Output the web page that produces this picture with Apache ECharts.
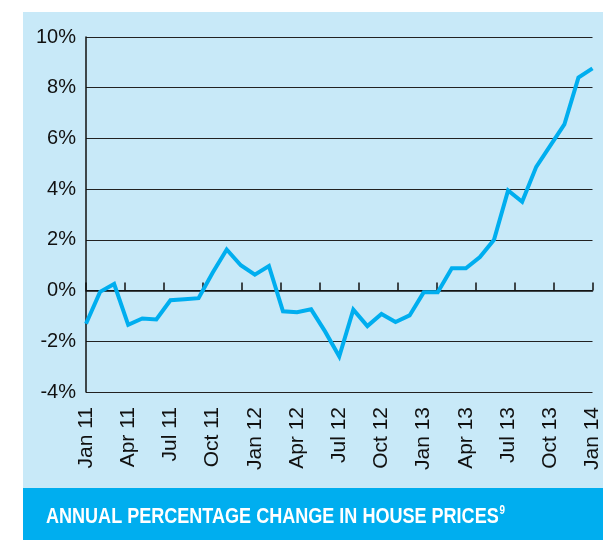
<!DOCTYPE html>
<html>
<head>
<meta charset="utf-8">
<title>Annual percentage change in house prices</title>
<script src="https://cdn.jsdelivr.net/npm/echarts@6/dist/echarts.min.js"></script>
<style>
  html, body { margin: 0; padding: 0; background: #fff; }
  #main { width: 603px; height: 540px; }
</style>
</head>
<body>
<div id="main"></div>
<script>
// 数据：每月一个点，2011年1月到2014年1月
var months = [
  'Jan 11', 'Feb 11', 'Mar 11', 'Apr 11', 'May 11', 'Jun 11', 'Jul 11', 'Aug 11', 'Sep 11', 'Oct 11', 'Nov 11', 'Dec 11',
  'Jan 12', 'Feb 12', 'Mar 12', 'Apr 12', 'May 12', 'Jun 12', 'Jul 12', 'Aug 12', 'Sep 12', 'Oct 12', 'Nov 12', 'Dec 12',
  'Jan 13', 'Feb 13', 'Mar 13', 'Apr 13', 'May 13', 'Jun 13', 'Jul 13', 'Aug 13', 'Sep 13', 'Oct 13', 'Nov 13', 'Dec 13',
  'Jan 14'
];
var priceChange = [
  -1.31, -0.05, 0.26, -1.35, -1.1, -1.14, -0.38, -0.34, -0.3, 0.7, 1.62, 1.0,
  0.63, 0.97, -0.82, -0.85, -0.74, -1.62, -2.6, -0.75, -1.4, -0.92, -1.24, -0.98,
  -0.07, -0.07, 0.88, 0.88, 1.32, 2.0, 3.95, 3.5, 4.88, 5.72, 6.55, 8.4,
  8.76
];
// 零线上的小刻度（原图里和月份标签并不对齐）
var zeroTicks = [0, 13];
var yTicks = { min: -4, max: 10, step: 2 };
var titleText = 'ANNUAL PERCENTAGE CHANGE IN HOUSE PRICES';
var footnote = '9';

var font = '"Liberation Sans", Arial, Helvetica, sans-serif';
var myChart = echarts.init(document.getElementById('main'));

myChart.setOption({
  backgroundColor: '#fff',
  animation: false,
  // 背景色块和底部标题条
  graphic: [
    {
      type: 'rect', z: -10, silent: true,
      shape: { x: 23, y: 12, width: 580, height: 476 },
      style: { fill: '#c8e9f8' }
    },
    {
      type: 'rect', z: -10, silent: true,
      shape: { x: 23, y: 488, width: 580, height: 52 },
      style: { fill: '#00aeef' }
    },
    {
      // 原图是窄体粗字，这里横向压缩一下
      type: 'text', x: 46, y: 505, scaleX: 0.82,
      style: {
        text: '{a|' + titleText + '}{b|' + footnote + '}',
        rich: {
          a: { fontFamily: font, fontWeight: 'bold', fontSize: 22, fill: '#fff', lineHeight: 24 },
          b: { fontFamily: font, fontWeight: 'bold', fontSize: 12, fill: '#fff', lineHeight: 24, verticalAlign: 'top', padding: [0, 0, 12, 1] }
        }
      }
    }
  ],
  grid: { left: 86, right: 5, top: 37, bottom: 148 },
  xAxis: [
    {
      type: 'category',
      data: months,
      boundaryGap: false,
      axisLine: { show: false, onZero: false },
      axisTick: { show: false },
      splitLine: { show: false },
      axisLabel: {
        interval: 2,
        rotate: 90,
        margin: 15,
        fontSize: 21,
        color: '#111',
        fontFamily: font
      }
    },
    {
      type: 'value',
      min: zeroTicks[0],
      max: zeroTicks[1],
      interval: 1,
      position: 'bottom',
      axisLine: { show: true, onZero: true, lineStyle: { color: '#111', width: 1.5 } },
      axisTick: { show: true, inside: true, length: 8, lineStyle: { color: '#111', width: 1.5 } },
      axisLabel: { show: false },
      splitLine: { show: false }
    }
  ],
  yAxis: {
    type: 'value',
    min: yTicks.min,
    max: yTicks.max,
    interval: yTicks.step,
    axisLine: { show: true, lineStyle: { color: '#111', width: 1.5 } },
    axisTick: { show: false },
    splitLine: { show: true, lineStyle: { color: '#222', width: 1.2 } },
    axisLabel: {
      formatter: '{value}%',
      fontSize: 20,
      color: '#111',
      margin: 10,
      fontFamily: font
    }
  },
  series: [{
    type: 'line',
    data: priceChange,
    xAxisIndex: 0,
    showSymbol: false,
    lineStyle: { color: '#00aeef', width: 4, join: 'miter' },
    z: 5
  }]
});
</script>
</body>
</html>
